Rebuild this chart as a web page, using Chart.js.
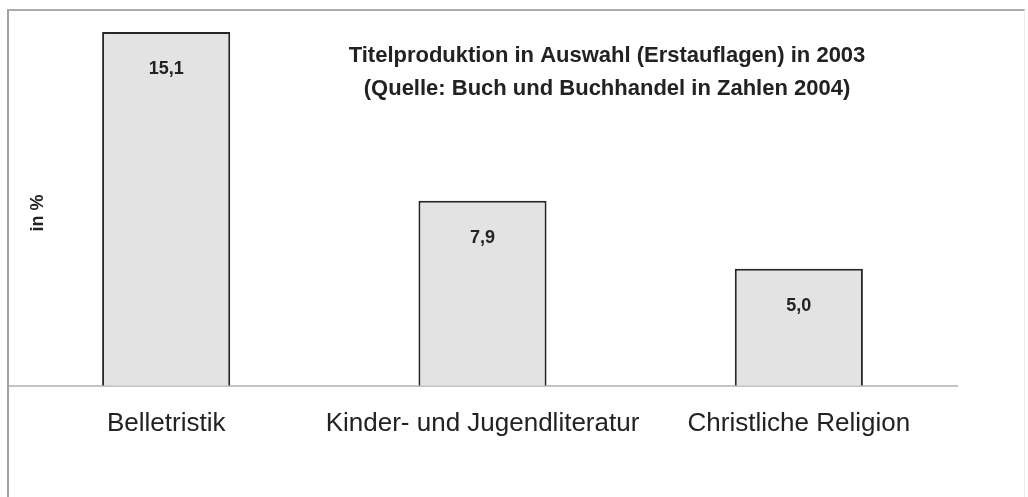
<!DOCTYPE html>
<html>
<head>
<meta charset="utf-8">
<script src="https://cdn.jsdelivr.net/npm/chart.js@4/dist/chart.umd.min.js"></script>
<style>
  html, body { margin: 0; padding: 0; background: #fff; }
  #wrap { position: relative; width: 1028px; height: 497px; }
  #frame {
    position: absolute; left: 7px; top: 9px; width: 1015px; height: 500px;
    border-top: 2px solid #ababab; border-left: 2px solid #a0a0a0; border-right: 1px solid #ececec;
    pointer-events: none;
  }
</style>
</head>
<body>
<div id="wrap">
  <canvas id="chart" width="1028" height="497"></canvas>
  <div id="frame"></div>
</div>
<script>
const categories = ["Belletristik", "Kinder- und Jugendliteratur", "Christliche Religion"]
const shares     = [15.1, 7.9, 5.0]
const titleLines = ["Titelproduktion in Auswahl (Erstauflagen) in 2003", "(Quelle: Buch und Buchhandel in Zahlen 2004)"]
const yTitle     = "in %"

const fmt = (v) => v.toFixed(1).replace(".", ",")

// value labels inside the bars, title and y caption
const annotations = {
  id: "annotations",
  afterDatasetsDraw(chart) {
    const { ctx } = chart
    const meta = chart.getDatasetMeta(0)
    ctx.save()
    ctx.fillStyle = "#222"
    ctx.textAlign = "center"
    ctx.textBaseline = "middle"
    ctx.font = "bold 18px 'Liberation Sans', Arial, sans-serif"
    meta.data.forEach((bar, i) => {
      ctx.fillText(fmt(shares[i]), bar.x, bar.y + 37)
    })

    ctx.font = "bold 22px 'Liberation Sans', Arial, sans-serif"
    titleLines.forEach((line, i) => {
      ctx.fillText(line, 607, 56 + i * 33)
    })

    ctx.translate(38, 213)
    ctx.rotate(-Math.PI / 2)
    ctx.font = "bold 18px 'Liberation Sans', Arial, sans-serif"
    ctx.fillText(yTitle, 0, 0)
    ctx.restore()
  }
}

new Chart(document.getElementById("chart"), {
  type: "bar",
  data: {
    labels: categories,
    datasets: [{
      data: shares,
      backgroundColor: "#e3e3e3",
      borderColor: "#262626",
      borderWidth: 2,
      borderSkipped: "bottom",
      categoryPercentage: 1,
      barPercentage: 0.405
    }]
  },
  options: {
    responsive: false,
    animation: false,
    layout: { padding: { left: 8, right: 71, top: 32, bottom: 44 } },
    plugins: {
      legend: { display: false },
      tooltip: { enabled: false }
    },
    scales: {
      x: {
        grid: { display: false },
        border: { display: true, color: "#c4c4c4", width: 2 },
        ticks: {
          color: "#222",
          padding: 14,
          maxRotation: 0,
          autoSkip: false,
          font: { family: "'Liberation Sans', Arial, sans-serif", size: 26 }
        }
      },
      y: {
        display: false,
        min: 0,
        max: 15.1
      }
    }
  },
  plugins: [annotations]
})
</script>
</body>
</html>
